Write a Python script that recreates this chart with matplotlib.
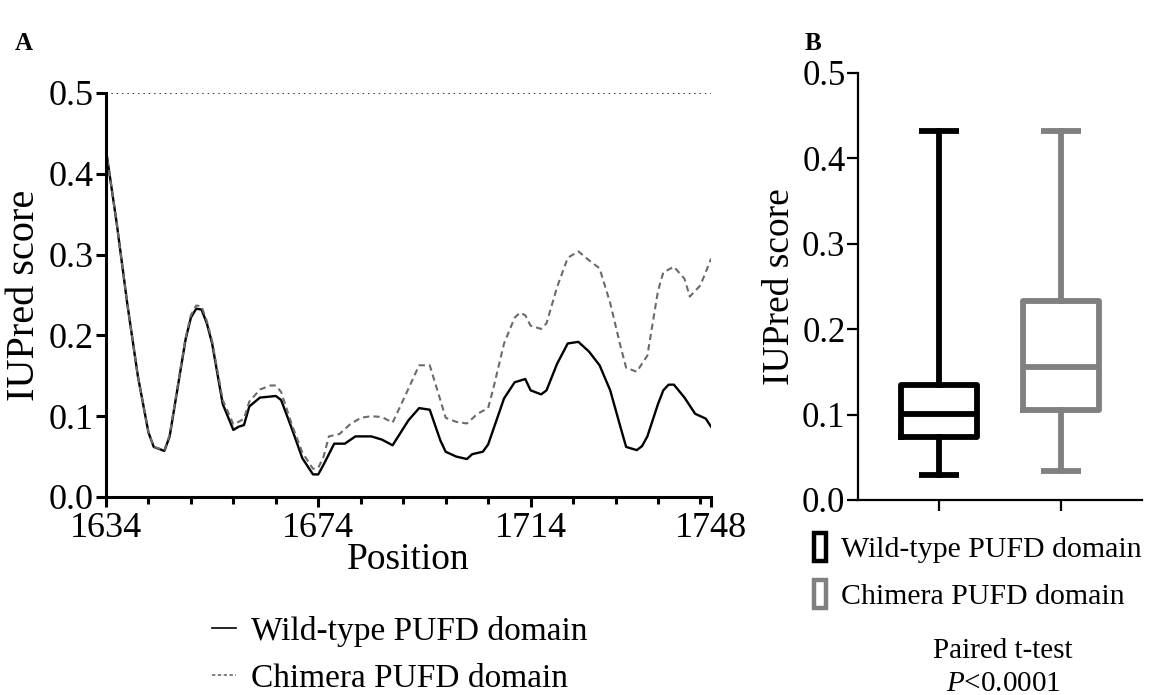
import matplotlib
matplotlib.use("Agg")
import matplotlib.pyplot as plt
from matplotlib.lines import Line2D
from matplotlib.patches import Patch

plt.rcParams['font.family'] = ['Liberation Serif', 'DejaVu Serif']
plt.rcParams['mathtext.fontset'] = 'custom'
plt.rcParams['mathtext.rm'] = 'Liberation Serif'
plt.rcParams['mathtext.it'] = 'Liberation Serif:italic'

# Panel A: IUPred score along the PUFD domain
wtPos = [1634, 1636, 1637, 1638, 1640, 1642, 1643, 1645, 1646, 1647, 1649, 1650,
         1651, 1652, 1653, 1654, 1656, 1658, 1659, 1660, 1661, 1663, 1666, 1667,
         1669, 1671, 1673, 1674, 1675, 1677, 1679, 1681, 1684, 1686, 1688, 1691,
         1693, 1695, 1697, 1698, 1700, 1702, 1703, 1705, 1706, 1709, 1711, 1713,
         1714, 1716, 1717, 1719, 1721, 1723, 1725, 1727, 1729, 1731, 1732, 1734,
         1735, 1736, 1738, 1739, 1740, 1741, 1743, 1745, 1747, 1748]
wtScore = [0.43, 0.34, 0.29, 0.24, 0.15, 0.08, 0.062, 0.057, 0.075, 0.115, 0.195, 0.222,
           0.233, 0.232, 0.215, 0.19, 0.115, 0.083, 0.087, 0.089, 0.112, 0.123, 0.125, 0.12,
           0.085, 0.048, 0.028, 0.028, 0.04, 0.066, 0.066, 0.075, 0.075, 0.071, 0.064, 0.095,
           0.11, 0.108, 0.07, 0.056, 0.05, 0.047, 0.053, 0.056, 0.065, 0.122, 0.142, 0.146,
           0.132, 0.127, 0.132, 0.165, 0.19, 0.192, 0.18, 0.163, 0.132, 0.085, 0.062, 0.058,
           0.063, 0.075, 0.115, 0.132, 0.139, 0.139, 0.123, 0.103, 0.097, 0.087]

chPos = [1634, 1636, 1637, 1638, 1640, 1642, 1643, 1645, 1646, 1647, 1649, 1650,
         1651, 1652, 1653, 1654, 1656, 1658, 1659, 1660, 1661, 1663, 1665, 1666,
         1667, 1669, 1671, 1673, 1674, 1675, 1676, 1678, 1680, 1682, 1684, 1686,
         1688, 1690, 1693, 1695, 1697, 1698, 1700, 1702, 1704, 1706, 1707, 1709,
         1711, 1712, 1713, 1714, 1716, 1717, 1719, 1721, 1723, 1725, 1727, 1729,
         1731, 1732, 1734, 1736, 1738, 1739, 1741, 1743, 1744, 1746, 1748]
chScore = [0.43, 0.34, 0.29, 0.24, 0.15, 0.08, 0.062, 0.058, 0.077, 0.117, 0.197, 0.225,
           0.237, 0.236, 0.218, 0.193, 0.12, 0.09, 0.093, 0.097, 0.118, 0.133, 0.138, 0.138,
           0.13, 0.09, 0.055, 0.035, 0.036, 0.05, 0.075, 0.078, 0.09, 0.098, 0.1, 0.099,
           0.092, 0.12, 0.163, 0.163, 0.12, 0.098, 0.093, 0.091, 0.103, 0.11, 0.135, 0.19,
           0.222, 0.228, 0.225, 0.212, 0.208, 0.215, 0.26, 0.296, 0.304, 0.293, 0.283, 0.24,
           0.185, 0.16, 0.155, 0.175, 0.255, 0.278, 0.285, 0.27, 0.248, 0.262, 0.295]

threshold = 0.5
xMajor = [1634, 1674, 1714, 1748]
xMinor = list(range(1642, 1748, 8))
yTicks = [0, 0.1, 0.2, 0.3, 0.4, 0.5]
yTickLabels = ["0.0", "0.1", "0.2", "0.3", "0.4", "0.5"]

# Panel B: box plot summary (min, q1, median, q3, max)
groups = ["Wild-type PUFD domain", "Chimera PUFD domain"]
wtBox = [0.029, 0.0735, 0.101, 0.135, 0.432]
chBox = [0.034, 0.105, 0.156, 0.233, 0.432]
boxColors = ["black", "#808080"]

fig = plt.figure(figsize=(11.53, 6.95), dpi=100)

# ---- panel A
axA = fig.add_axes([0.0919, 0.2849, 0.5248, 0.5813])
axA.plot(wtPos, wtScore, color="black", linewidth=1.7)
axA.plot(chPos, chScore, color="#6b6b6b", linewidth=1.5, linestyle=(0, (3, 2)))
axA.axhline(threshold, color="black", linewidth=1.1, linestyle=(0, (1, 2.5)))
axA.set_xlim(1634, 1748)
axA.set_ylim(0, 0.5)
axA.set_xticks(xMajor)
axA.set_xticks(xMinor, minor=True)
axA.set_yticks(yTicks)
axA.set_yticklabels(yTickLabels)
axA.spines['top'].set_visible(False)
axA.spines['right'].set_visible(False)
axA.spines['left'].set_linewidth(2.2)
axA.spines['bottom'].set_linewidth(2.2)
axA.tick_params(which='major', length=7, width=2.2, labelsize=26)
axA.tick_params(axis='y', pad=2)
axA.tick_params(axis='x', pad=4)
axA.tick_params(which='minor', length=5, width=2.2)
axA.set_xlabel("Position", fontsize=27, labelpad=-2)
axA.set_ylabel("IUPred score", fontsize=29, labelpad=4)

legA = [Line2D([0], [0], color="black", linewidth=1.2),
        Line2D([0], [0], color="#6b6b6b", linewidth=1.2, linestyle=(0, (2, 1.5)))]
fig.legend(legA, ["Wild-type PUFD domain", "Chimera PUFD domain"], loc="center left",
           bbox_to_anchor=(0.158, 0.058), frameon=False, fontsize=24,
           handlelength=0.7, handletextpad=0.45, labelspacing=0.5)

# ---- panel B
axB = fig.add_axes([0.7441, 0.2806, 0.2464, 0.6144])
stats = []
for vals, name in zip([wtBox, chBox], groups):
    stats.append({'whislo': vals[0], 'q1': vals[1], 'med': vals[2],
                  'q3': vals[3], 'whishi': vals[4], 'label': name})
bp = axB.bxp(stats, positions=[1, 2], widths=0.62, showfliers=False, capwidths=0.32)
for i, c in enumerate(boxColors):
    bp['boxes'][i].set_color(c)
    bp['boxes'][i].set_linewidth(4.2)
    bp['medians'][i].set_color(c)
    bp['medians'][i].set_linewidth(4.2)
    for j in (2 * i, 2 * i + 1):
        bp['whiskers'][j].set_color(c)
        bp['whiskers'][j].set_linewidth(4.2)
        bp['caps'][j].set_color(c)
        bp['caps'][j].set_linewidth(4.2)
        bp['caps'][j].set_solid_capstyle('butt')
axB.set_xlim(0.336, 2.664)
axB.set_ylim(0, 0.5)
axB.set_yticks(yTicks)
axB.set_yticklabels(yTickLabels)
axB.set_xticks([1, 2])
axB.set_xticklabels(["", ""])
axB.spines['top'].set_visible(False)
axB.spines['right'].set_visible(False)
axB.spines['left'].set_linewidth(1.6)
axB.spines['bottom'].set_linewidth(1.6)
axB.tick_params(length=8, width=1.6, labelsize=25, pad=1)
axB.set_ylabel("IUPred score", fontsize=27, labelpad=4)

legB = [Patch(facecolor="white", edgecolor=c, linewidth=3.2) for c in boxColors]
fig.legend(legB, groups, loc="center left", bbox_to_anchor=(0.683, 0.178),
           frameon=False, fontsize=21.5, handlelength=0.4, handleheight=1.1,
           handletextpad=0.5, labelspacing=0.55)

fig.text(0.870, 0.063, "Paired t-test", fontsize=21, ha="center", va="center")
fig.text(0.870, 0.016, r"$\mathit{P}$<0.0001", fontsize=21, ha="center", va="center")

fig.text(0.013, 0.938, "A", fontsize=18, fontweight="bold", va="center")
fig.text(0.698, 0.938, "B", fontsize=18, fontweight="bold", va="center")

plt.savefig("out.png", dpi=100)
